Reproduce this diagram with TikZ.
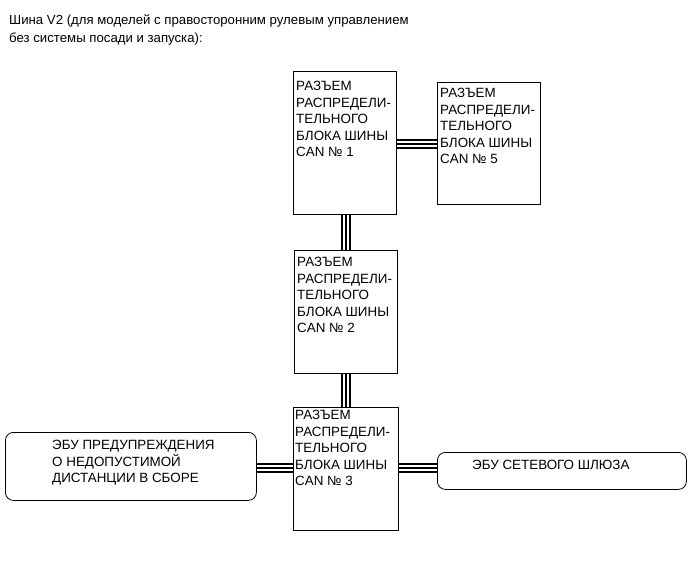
\documentclass[tikz,border=0pt]{standalone}
\usepackage{fontspec}
\setmainfont{Liberation Sans}
\begin{document}
\begin{tikzpicture}[x=1pt,y=-1pt,
  box/.style={draw, line width=0.8pt, inner sep=0pt, anchor=north west},
  rbox/.style={draw, line width=0.8pt, inner sep=0pt, anchor=north west, rounded corners=8pt},
  lbl/.style={anchor=north west, align=left, inner sep=0pt, font=\fontsize{13.4}{16.5}\selectfont},
  bus/.style={line width=2pt, double=white, double distance=5.5pt, postaction={draw, black, line width=1.1pt}}]
\useasboundingbox (0,0) rectangle (690,562);
\node[anchor=north west, align=left, inner sep=0pt, font=\fontsize{13.2}{17.5}\selectfont] (title) at (9,15)
  {Шина V2 (для моделей с правосторонним рулевым управлением\\без системы посади и запуска):};
% boxes
\node[box, minimum width=103pt, minimum height=143pt] (b1) at (293,71) {};
\node[box, minimum width=103pt, minimum height=122pt] (b5) at (437,82) {};
\node[box, minimum width=103pt, minimum height=123pt] (b2) at (294,250) {};
\node[box, minimum width=105pt, minimum height=123pt] (b3) at (293,407) {};
\node[rbox, minimum width=251pt, minimum height=68pt] (ecu1) at (5,432) {};
\node[rbox, minimum width=249pt, minimum height=37pt] (ecu2) at (437,452) {};
% texts
\node[lbl] (t1) at ([shift={(3,10)}]b1.north west) {РАЗЪЕМ\\РАСПРЕДЕЛИ-\\ТЕЛЬНОГО\\БЛОКА ШИНЫ\\CAN № 1};
\node[lbl] (t5) at ([shift={(3,6)}]b5.north west) {РАЗЪЕМ\\РАСПРЕДЕЛИ-\\ТЕЛЬНОГО\\БЛОКА ШИНЫ\\CAN № 5};
\node[lbl] (t2) at ([shift={(3,7)}]b2.north west) {РАЗЪЕМ\\РАСПРЕДЕЛИ-\\ТЕЛЬНОГО\\БЛОКА ШИНЫ\\CAN № 2};
\node[lbl] (t3) at ([shift={(2,3)}]b3.north west) {РАЗЪЕМ\\РАСПРЕДЕЛИ-\\ТЕЛЬНОГО\\БЛОКА ШИНЫ\\CAN № 3};
\node[lbl] (te1) at (52,440) {ЭБУ ПРЕДУПРЕЖДЕНИЯ\\О НЕДОПУСТИМОЙ\\ДИСТАНЦИИ В СБОРЕ};
\node[lbl] (te2) at (472,460) {ЭБУ СЕТЕВОГО ШЛЮЗА};
% buses
\draw[bus] (b1.east |- 0,144) -- (b5.west |- 0,144);
\draw[bus] (b1.south -| 346,0) -- (b2.north -| 346,0);
\draw[bus] (b2.south -| 346,0) -- (b3.north -| 346,0);
\draw[bus] (ecu1.east |- 0,468) -- (b3.west |- 0,468);
\draw[bus] (b3.east |- 0,468) -- (ecu2.west |- 0,468);
\end{tikzpicture}
\end{document}
